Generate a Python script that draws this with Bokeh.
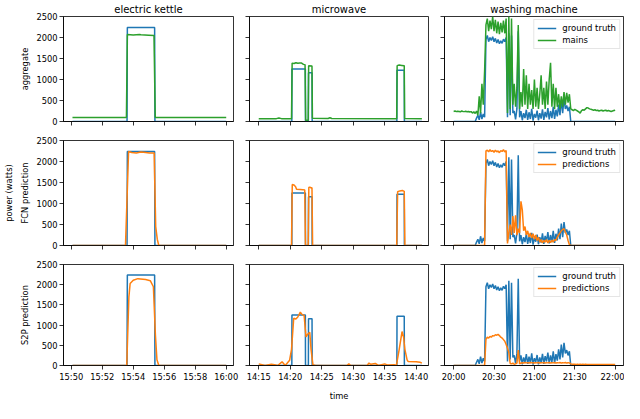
from bokeh.plotting import figure
from bokeh.layouts import gridplot
from bokeh.models import (FixedTicker, LinearAxis, Range1d, Legend, LegendItem,
                          CustomLabelingPolicy)
from bokeh.embed import file_html
from bokeh.resources import INLINE

# ---------------- data ----------------
col_titles = ["electric kettle", "microwave", "washing machine"]
row_labels = ["aggregate", "FCN prediction", "S2P prediction"]
y_ticks = [0, 500, 1000, 1500, 2000, 2500]

kettle_ticks = ["15:50", "15:52", "15:54", "15:56", "15:58", "16:00"]
micro_ticks = ["14:15", "14:20", "14:25", "14:30", "14:35", "14:40"]
wash_ticks = ["20:00", "20:30", "21:00", "21:30", "22:00"]

kettle_xlim = ["15:49.50", "16:00.47"]
micro_xlim = ["14:13.53", "14:41.95"]
wash_xlim = ["19:53.2", "22:06.2"]

# electric kettle
kettle_gt_t = ["15:50.08", "15:53.60", "15:53.62", "15:55.38", "15:55.40", "16:00.00"]
kettle_gt = [0, 0, 2240, 2240, 0, 0]
kettle_mains_t = ["15:50.08", "15:53.56", "15:53.62", "15:54.00", "15:54.40", "15:54.50",
                  "15:55.00", "15:55.34", "15:55.42", "16:00.00"]
kettle_mains = [95, 95, 2070, 2062, 2072, 2066, 2055, 2048, 95, 95]
kettle_fcn_t = ["15:50.08", "15:53.50", "15:53.70", "15:53.90", "15:54.20", "15:54.50",
                "15:54.80", "15:55.05", "15:55.35", "15:55.45", "15:55.55", "15:55.65", "16:00.00"]
kettle_fcn = [0, 0, 2240, 2215, 2205, 2225, 2215, 2200, 2205, 450, 150, 0, 0]
kettle_s2p_t = ["15:50.08", "15:53.58", "15:53.72", "15:53.80", "15:54.00", "15:54.30",
                "15:54.80", "15:55.10", "15:55.30", "15:55.43", "15:55.53", "15:55.65", "16:00.00"]
kettle_s2p = [0, 0, 1700, 2030, 2110, 2150, 2130, 2100, 1950, 760, 140, 0, 0]

# microwave
micro_gt_t = ["14:15.0", "14:20.25", "14:20.27", "14:22.40", "14:22.42", "14:22.88", "14:22.90",
              "14:23.46", "14:23.48", "14:36.93", "14:36.95", "14:38.10", "14:38.12", "14:40.9"]
micro_gt = [0, 0, 1250, 1250, 0, 0, 1160, 1160, 0, 0, 1220, 1220, 0, 0]
micro_mains_t = ["14:15.0", "14:17.8", "14:18.2", "14:18.6", "14:20.20", "14:20.30", "14:20.6",
                 "14:20.9", "14:21.2", "14:21.5", "14:21.8", "14:22.1", "14:22.35", "14:22.45",
                 "14:22.85", "14:22.92", "14:23.45", "14:23.52", "14:26.0", "14:26.3", "14:26.6",
                 "14:36.90", "14:36.97", "14:37.3", "14:37.7", "14:38.1", "14:38.16", "14:40.9"]
micro_mains = [65, 68, 85, 68, 65, 1390, 1380, 1400, 1385, 1395, 1390, 1360, 1350, 30,
               30, 1330, 1320, 75, 72, 90, 70, 68, 1330, 1345, 1335, 1325, 70, 65]
micro_fcn_t = ["14:15.0", "14:20.20", "14:20.32", "14:20.6", "14:20.85", "14:21.0", "14:21.6",
               "14:22.0", "14:22.30", "14:22.42", "14:22.85", "14:22.95", "14:23.1", "14:23.3",
               "14:23.45", "14:23.55", "14:36.90", "14:37.05", "14:37.4", "14:37.8", "14:38.1",
               "14:38.2", "14:40.9"]
micro_fcn = [0, 0, 1450, 1440, 1400, 1340, 1335, 1330, 1320, 0, 0, 1380, 1390, 1370,
             1375, 0, 0, 1280, 1300, 1310, 1290, 0, 0]
micro_s2p_t = ["14:15.0", "14:15.5", "14:16.0", "14:17.0", "14:17.5", "14:18.0", "14:18.7",
               "14:19.2", "14:19.9", "14:20.2", "14:20.55", "14:20.9", "14:21.2", "14:21.6",
               "14:21.9", "14:22.2", "14:22.5", "14:22.8", "14:23.1", "14:23.3", "14:23.6",
               "14:24.0", "14:29.0", "14:29.3", "14:29.6", "14:32.2", "14:32.5", "14:32.8",
               "14:33.5", "14:34.0", "14:35.0", "14:35.5", "14:36.5", "14:36.85", "14:37.3",
               "14:37.75", "14:38.0", "14:38.2", "14:38.55", "14:38.7", "14:40.0", "14:40.6",
               "14:40.9"]
micro_s2p = [40, 20, 0, 30, 20, 0, 90, 0, 130, 400,
             1170, 1150, 1200, 1320, 1260, 1240, 710, 780, 820, 400,
             20, 0, 0, 40, 0, 0, 60, 30, 50, 0,
             40, 10, 20, 0, 400, 840, 700, 400, 140, 100,
             95, 80, 60]

# washing machine: one reading per minute from 20:00 to 22:00
wash_start = "20:00"
wash_step_min = 1
wash_gt = [0, 0, 0, 0, 0, 0, 0, 0, 0, 0,
           0, 0, 0, 0, 0, 0, 0, 80, 150, 40,
           220, 60, 180, 100, 1950, 2050, 1900, 2000, 1930, 2020,
           1900, 1980, 1870, 1950, 1850, 1920, 1860, 1960, 1900, 2000,
           100, 2100, 150, 2050, 200, 250, 50, 300, 2150, 100,
           250, 30, 200, 80, 280, 40, 220, 60, 300, 20,
           180, 90, 260, 30, 200, 70, 290, 40, 230, 100,
           320, 50, 250, 80, 350, 60, 280, 120, 400, 150,
           520, 200, 560, 300, 380, 250, 350, 0, 0, 0,
           0, 0, 0, 0, 0, 0, 0, 0, 0, 0,
           0, 0, 0, 0, 0, 0, 0, 0, 0, 0,
           0, 0, 0, 0, 0, 0, 0, 0, 0, 0,
           0]
wash_mains = [240, 250, 235, 245, 240, 230, 250, 240, 235, 245,
              230, 240, 225, 235, 200, 230, 190, 250, 150, 600,
              200, 900, 400, 1200, 2300, 2450, 2150, 2400, 2200, 2500,
              2150, 2420, 2100, 2380, 2080, 2350, 2120, 2400, 2100, 2450,
              200, 2500, 300, 2450, 400, 900, 350, 800, 2300, 300,
              700, 350, 1250, 400, 1100, 300, 900, 400, 750, 300,
              1000, 350, 800, 300, 650, 1100, 400, 800, 300, 950,
              400, 1000, 1400, 350, 900, 300, 800, 350, 650, 300,
              600, 350, 700, 400, 680, 450, 650, 300, 280, 260,
              290, 270, 250, 230, 200, 260, 280, 270, 300, 330,
              320, 300, 290, 280, 270, 280, 260, 270, 250, 260,
              270, 250, 260, 270, 250, 260, 250, 240, 250, 260,
              270]
wash_fcn = [0, 0, 0, 0, 0, 0, 0, 0, 0, 0,
            0, 0, 0, 0, 0, 0, 0, 0, 0, 0,
            0, 0, 0, 0, 2250, 2270, 2230, 2280, 2240, 2260,
            2220, 2270, 2230, 2250, 2210, 2260, 2240, 2280, 2230, 2260,
            50, 300, 500, 250, 700, 300, 720, 250, 400, 300,
            1050, 850, 350, 450, 250, 350, 200, 300, 180, 280,
            150, 250, 120, 200, 80, 140, 60, 120, 80, 140,
            60, 120, 70, 130, 80, 140, 120, 200, 250, 300,
            350, 380, 400, 320, 250, 120, 20, 0, 0, 0,
            0, 0, 0, 0, 0, 0, 0, 0, 0, 0,
            0, 0, 0, 0, 0, 0, 0, 0, 0, 0,
            0, 0, 0, 0, 0, 0, 0, 0, 0, 0,
            0]
wash_s2p = [0, 0, 0, 0, 0, 0, 0, 0, 0, 0,
            0, 0, 0, 0, 0, 0, 0, 0, 0, 0,
            0, 0, 0, 0, 650, 700, 680, 720, 700, 740,
            730, 760, 750, 770, 740, 700, 680, 640, 600, 520,
            430, 320, 50, 40, 60, 30, 40, 60, 380, 40,
            60, 70, 60, 75, 65, 70, 60, 75, 65, 70,
            60, 70, 65, 75, 60, 70, 65, 75, 60, 70,
            65, 75, 60, 70, 65, 75, 60, 70, 65, 75,
            60, 70, 65, 75, 60, 70, 65, 40, 30, 30,
            30, 25, 30, 25, 30, 25, 30, 25, 30, 25,
            25, 25, 25, 25, 25, 25, 25, 25, 25, 25,
            25, 25, 25, 25, 25, 25, 25, 25, 25, 25,
            25]

# ---------------- helpers ----------------
BLUE, ORANGE, GREEN = "#1f77b4", "#ff7f0e", "#2ca02c"
FONT = "DejaVu Sans"


def to_min(s):
    h, m = s.split(":")
    return int(h) * 60 + float(m)


def tlist(lst):
    return [to_min(s) for s in lst]


wash_t = [to_min(wash_start) + i * wash_step_min for i in range(len(wash_gt))]

columns = [
    dict(title=col_titles[0], xlim=kettle_xlim, ticks=kettle_ticks,
         gt=(tlist(kettle_gt_t), kettle_gt),
         other=[(tlist(kettle_mains_t), kettle_mains), (tlist(kettle_fcn_t), kettle_fcn),
                (tlist(kettle_s2p_t), kettle_s2p)]),
    dict(title=col_titles[1], xlim=micro_xlim, ticks=micro_ticks,
         gt=(tlist(micro_gt_t), micro_gt),
         other=[(tlist(micro_mains_t), micro_mains), (tlist(micro_fcn_t), micro_fcn),
                (tlist(micro_s2p_t), micro_s2p)]),
    dict(title=col_titles[2], xlim=wash_xlim, ticks=wash_ticks,
         gt=(wash_t, wash_gt),
         other=[(wash_t, wash_mains), (wash_t, wash_fcn), (wash_t, wash_s2p)]),
]

other_colors = [GREEN, ORANGE, ORANGE]
other_names = ["mains", "predictions", "predictions"]

col_w = [241, 195, 188]
col_bl = [54, 8, 8]
col_br = [8, 8, 1]
row_h = [131, 124, 148]
row_bt = [16, 9, 9]
row_bb = [10, 10, 34]

NO_LABELS = """
const result = new Set()
return result
"""


def style_axis(ax, show_labels):
    ax.major_tick_out = 4
    ax.major_tick_in = 0
    ax.minor_tick_out = 0
    ax.minor_tick_in = 0
    ax.axis_line_color = "black"
    ax.axis_line_width = 0.8
    ax.major_tick_line_color = "black"
    ax.major_tick_line_width = 0.8
    ax.major_label_text_font = FONT
    ax.major_label_text_color = "black"
    ax.major_label_standoff = 2
    if show_labels:
        ax.major_label_text_font_size = "8.3px"
    else:
        ax.major_label_text_font_size = "0px"
        ax.major_label_policy = CustomLabelingPolicy(code=NO_LABELS)


def blank_axis(label, standoff):
    a = LinearAxis(axis_label=label, ticker=FixedTicker(ticks=[]))
    a.major_tick_out = 0
    a.major_tick_in = 0
    a.minor_tick_out = 0
    a.minor_tick_in = 0
    a.axis_line_color = None
    a.major_label_text_font_size = "0px"
    a.major_label_policy = CustomLabelingPolicy(code=NO_LABELS)
    a.axis_label_standoff = standoff
    a.axis_label_text_font = FONT
    a.axis_label_text_font_size = "8.3px"
    a.axis_label_text_font_style = "normal"
    a.axis_label_text_color = "black"
    return a


grid = []
for r in range(3):
    row = []
    for c in range(3):
        col = columns[c]
        xr = Range1d(*tlist(col["xlim"]))
        p = figure(width=col_w[c], height=row_h[r], x_range=xr, y_range=Range1d(0, 2500),
                   output_backend="svg", toolbar_location=None,
                   title=col["title"] if r == 0 else None,
                   min_border_left=col_bl[c], min_border_right=col_br[c],
                   min_border_top=row_bt[r], min_border_bottom=row_bb[r])
        if r == 0:
            p.title.align = "center"
            p.title.text_font = FONT
            p.title.text_font_size = "10px"
            p.title.text_font_style = "normal"
            p.title.text_color = "black"
            p.title.standoff = 3
        p.xgrid.visible = False
        p.ygrid.visible = False
        p.outline_line_color = "black"
        p.outline_line_width = 0.8
        p.outline_line_alpha = 1
        p.background_fill_color = "white"
        p.border_fill_color = "white"

        ticks = col["ticks"]
        p.xaxis.ticker = FixedTicker(ticks=[int(round(to_min(t))) for t in ticks])
        p.xaxis.major_label_overrides = {int(round(to_min(t))): t for t in ticks}
        p.yaxis.ticker = FixedTicker(ticks=y_ticks)
        for ax in p.xaxis:
            style_axis(ax, r == 2)
        for ax in p.yaxis:
            style_axis(ax, c == 0)
        if c == 0:
            p.yaxis.axis_label = row_labels[r]
            p.yaxis.axis_label_text_font = FONT
            p.yaxis.axis_label_text_font_size = "8.3px"
            p.yaxis.axis_label_text_font_style = "normal"
            p.yaxis.axis_label_text_color = "black"
            p.yaxis.axis_label_standoff = 3
        if r == 1 and c == 0:
            p.add_layout(blank_axis("power (watts)", 4), "left")
        if r == 2 and c == 1:
            p.add_layout(blank_axis("time", 6), "below")

        gx, gy = col["gt"]
        r_gt = p.line(gx, gy, color=BLUE, line_width=1.5)
        ox, oy = col["other"][r]
        r_o = p.line(ox, oy, color=other_colors[r], line_width=1.5)

        if c == 2:
            leg = Legend(items=[LegendItem(label="ground truth", renderers=[r_gt]),
                                LegendItem(label=other_names[r], renderers=[r_o])],
                         location="top_right")
            leg.label_text_font = FONT
            leg.label_text_font_size = "8.5px"
            leg.label_text_color = "black"
            leg.label_height = 10
            leg.glyph_height = 10
            leg.glyph_width = 19
            leg.label_standoff = 6
            leg.spacing = 2
            leg.padding = 3
            leg.margin = 3
            leg.border_line_color = "#cccccc"
            leg.border_line_width = 1
            leg.background_fill_alpha = 0.8
            p.add_layout(leg)
        row.append(p)
    grid.append(row)

layout = gridplot(grid, toolbar_location=None)
open("out.html", "w").write(file_html(layout, INLINE))
